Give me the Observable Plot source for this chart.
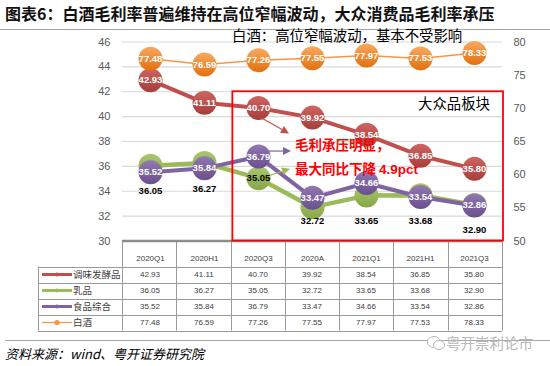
<!DOCTYPE html>
<html><head><meta charset="utf-8">
<script src="https://cdn.jsdelivr.net/npm/d3@7"></script>
<script src="https://cdn.jsdelivr.net/npm/@observablehq/plot@0.6"></script>
<style>
body{margin:0;background:#fff;}
#wrap{position:relative;width:550px;height:366px;overflow:hidden;background:#fff;font-family:"Liberation Sans",Arial,"Noto Sans CJK SC",sans-serif;}
#title{position:absolute;left:5px;top:3px;font:bold 16px "Noto Sans CJK SC",sans-serif;color:#111;white-space:nowrap;line-height:20px;}
#tline{position:absolute;left:0;top:29px;width:550px;height:1px;background:#A6A6A6;}
#chart{position:absolute;left:0;top:30px;}
#fline{position:absolute;left:5px;top:340px;width:545px;height:1px;background:#A6A6A6;}
#source{position:absolute;left:5px;top:345px;font:italic 13px "Noto Sans CJK SC",sans-serif;color:#000;white-space:nowrap;line-height:18px;}
#wm{position:absolute;left:426px;top:333px;font:14.5px "Noto Sans CJK SC",sans-serif;color:#B8B8B8;white-space:nowrap;line-height:20px;background:transparent;}
</style></head>
<body><div id="wrap">
<div id="title">图表6：白酒毛利率普遍维持在高位窄幅波动，大众消费品毛利率承压</div>
<div id="tline"></div>
<div id="chart"></div>
<div id="fline"></div>
<div id="source">资料来源：wind、粤开证券研究院</div>
<div id="wm"><svg width="20" height="16" style="vertical-align:-2px"><ellipse cx="8" cy="7" rx="6.5" ry="5.5" fill="#fff" stroke="#B8B8B8"/><ellipse cx="13" cy="10" rx="5.5" ry="4.5" fill="#fff" stroke="#B8B8B8"/></svg>粤开崇利论市</div>
</div>
<script>
// ---- data ----
const categories = ["2020Q1","2020H1","2020Q3","2020A","2021Q1","2021H1","2021Q3"];
const seriesNames = ["调味发酵品","乳品","食品综合","白酒"];
const seasoning = [42.93,41.11,40.70,39.92,38.54,36.85,35.80];
const dairy     = [36.05,36.27,35.05,32.72,33.65,33.68,32.90];
const foodMix   = [35.52,35.84,36.79,33.47,34.66,33.54,32.86];
const baijiu    = [77.48,76.59,77.26,77.55,77.97,77.53,78.33];
const leftTicks  = [30,32,34,36,38,40,42,44,46];
const rightTicks = [50,55,60,65,70,75,80];
const annTop = "白酒：高位窄幅波动，基本不受影响";
const annBox = "大众品板块";
const annRed1 = "毛利承压明显，";
const annRed2a = "最大同比下降 ";
const annRed2b = "4.9pct";

// ---- styles ----
const valuesList = [seasoning, dairy, foodMix, baijiu];
const styles = [
  {color:"#C0504D", g0:"#CF6461", g1:"#A63E3B", sw:4,   secondary:false, grad:"gRed"},
  {color:"#9BBB59", g0:"#AAC86C", g1:"#86A747", sw:4.5, secondary:false, grad:"gGreen"},
  {color:"#8064A2", g0:"#9078B2", g1:"#6A4F8C", sw:4,   secondary:false, grad:"gPurple"},
  {color:"#F79646", g0:"#FAA95F", g1:"#E2700F", sw:1.5, secondary:true,  grad:"gOrange"}
];
const toLeft = v => 30 + (v - 50) * 16 / 30;
const fromLeft = v => 50 + (v - 30) * 30 / 16;

const rows = seriesNames.map((name, s) => categories.map((c, i) => ({
  name, s, cat: c, i, v: valuesList[s][i],
  y: styles[s].secondary ? toLeft(valuesList[s][i]) : valuesList[s][i]
})));

const numFont = '"Liberation Sans", Arial, sans-serif';
const cjkFont = '"Noto Sans CJK SC", sans-serif';

const defsMark = () => {
  const defs = d3.create("svg:defs");
  styles.forEach(st => {
    const lg = defs.append("linearGradient").attr("id", st.grad).attr("x1",0).attr("y1",0).attr("x2",0).attr("y2",1);
    lg.append("stop").attr("offset","0%").attr("stop-color", st.g0);
    lg.append("stop").attr("offset","100%").attr("stop-color", st.g1);
  });
  return defs.node();
};

function arrowPath(g, x1, y1, x2, y2, color) {
  const a = Math.atan2(y2 - y1, x2 - x1), L = 8, Wd = 4;
  const bx = x2 - L * Math.cos(a), by = y2 - L * Math.sin(a);
  g.append("line").attr("x1", x1).attr("y1", y1).attr("x2", bx).attr("y2", by)
    .attr("stroke", color).attr("stroke-width", 1.2);
  g.append("path").attr("d", `M${x2},${y2}L${bx + Wd*Math.sin(a)},${by - Wd*Math.cos(a)}L${bx - Wd*Math.sin(a)},${by + Wd*Math.cos(a)}Z`)
    .attr("fill", color);
}

const annotMark = (index, scales, values, dims) => {
  const {width, height, marginRight, marginBottom, marginLeft} = dims;
  const x1 = width - marginRight;
  const step = (x1 - marginLeft) / categories.length;
  const g = d3.create("svg:g").attr("text-anchor", "start");
  const q3 = categories[2];
  const xq = scales.x(q3);
  // red box
  const bx0 = xq - step / 2 + 1.5;
  const by0 = scales.y(42);
  const by1 = height - marginBottom;
  g.append("rect").attr("x", bx0).attr("y", by0).attr("width", x1 + 1 - bx0).attr("height", by1 - by0)
    .attr("fill", "none").attr("stroke", "#FF0000").attr("stroke-width", 1.8);
  // arrows
  const yr = scales.y(seasoning[2]), yp = scales.y(foodMix[2]), yg = scales.y(dairy[2]);
  arrowPath(g, xq + 1, yr + 9, xq + 31, yr + 26, styles[0].color);
  arrowPath(g, xq + 11, yp - 5, xq + 33, yp - 5, styles[2].color);
  arrowPath(g, xq + 8, yg - 1, xq + 32, yg - 9, styles[1].color);
  // texts
  g.append("text").attr("x", xq - 26).attr("y", 6).attr("dy", "0.35em").attr("text-anchor", "start")
    .attr("font-family", cjkFont).attr("font-size", 14.4).attr("fill", "#000").text(annTop);
  g.append("text").attr("x", x1 - 12).attr("y", 74).attr("dy", "0.35em").attr("text-anchor", "end")
    .attr("font-family", cjkFont).attr("font-size", 14.4).attr("fill", "#000").text(annBox);
  g.append("text").attr("x", xq + 37).attr("y", 115).attr("dy", "0.35em").attr("text-anchor", "start")
    .attr("font-family", cjkFont).attr("font-size", 13.5).attr("font-weight", "bold").attr("fill", "#FF0000").text(annRed1);
  const t2 = g.append("text").attr("x", xq + 37).attr("y", 139).attr("dy", "0.35em").attr("text-anchor", "start")
    .attr("font-size", 13.5).attr("font-weight", "bold").attr("fill", "#FF0000");
  t2.append("tspan").attr("font-family", cjkFont).text(annRed2a);
  t2.append("tspan").attr("font-family", numFont).text(annRed2b);
  return g.node();
};

const tableMark = (index, scales, values, dims) => {
  const {width, height, marginLeft, marginRight, marginBottom} = dims;
  const x0 = marginLeft, x1 = width - marginRight;
  const axisY = height - marginBottom;
  const step = (x1 - x0) / categories.length;
  const rowTop = axisY + 26, rowH = 16, tableLeft = 38;
  const bottom = rowTop + seriesNames.length * rowH;
  const g = d3.create("svg:g");
  const ln = (a, b, c, d) => g.append("line").attr("x1", a).attr("y1", b).attr("x2", c).attr("y2", d)
    .attr("stroke", "#9A9A9A").attr("stroke-width", 1);
  for (let k = 0; k <= categories.length; k++) {
    const x = Math.round(x0 + k * step) + 0.5;
    ln(x, axisY, x, bottom);
  }
  ln(tableLeft + 0.5, rowTop, tableLeft + 0.5, bottom);
  for (let r = 0; r <= seriesNames.length; r++) {
    const y = Math.round(rowTop + r * rowH) + 0.5;
    ln(tableLeft, y, x1, y);
  }
  seriesNames.forEach((name, r) => {
    const yc = rowTop + rowH * (r + 0.5);
    const st = styles[r];
    categories.forEach((c, i) => {
      g.append("text").attr("x", scales.x(c)).attr("y", yc).attr("dy", "0.35em").attr("text-anchor", "middle")
        .attr("font-family", numFont).attr("font-size", 8).attr("fill", "#404040").text(valuesList[r][i].toFixed(2));
    });
    g.append("line").attr("x1", tableLeft + 4).attr("x2", tableLeft + 34).attr("y1", yc).attr("y2", yc)
      .attr("stroke", st.color).attr("stroke-width", st.secondary ? 1.2 : 3);
    g.append("circle").attr("cx", tableLeft + 19).attr("cy", yc).attr("r", st.secondary ? 2.6 : 2).attr("fill", st.color);
    g.append("text").attr("x", tableLeft + 35).attr("y", yc).attr("dy", "0.35em").attr("text-anchor", "start")
      .attr("font-family", cjkFont).attr("font-size", 9.5).attr("fill", "#404040").text(name);
  });
  return g.node();
};

const seriesMarks = [];
rows.forEach((data, s) => {
  const st = styles[s];
  seriesMarks.push(Plot.line(data, {x: "cat", y: "y", stroke: st.color, strokeWidth: st.sw, curve: "linear"}));
  seriesMarks.push(Plot.dot(data, {x: "cat", y: "y", r: 12, fill: `url(#${st.grad})`, stroke: "none"}));
});

const labelMarks = [];
rows.forEach((data, s) => {
  const fmt = d => d.v.toFixed(2);
  if (s === 1) {
    labelMarks.push(Plot.text(data.filter(d => d.i === 2), {x: "cat", y: "y", text: fmt, fill: "#000", fontWeight: "bold", fontSize: 9.5, fontFamily: numFont}));
    labelMarks.push(Plot.text(data.filter(d => d.i === 3), {x: "cat", y: "y", text: fmt, dy: 14, fill: "#000", fontWeight: "bold", fontSize: 9.5, fontFamily: numFont}));
    labelMarks.push(Plot.text(data.filter(d => d.i !== 2 && d.i !== 3), {x: "cat", y: "y", text: fmt, dy: 25.5, fill: "#000", fontWeight: "bold", fontSize: 9.5, fontFamily: numFont}));
  } else {
    labelMarks.push(Plot.text(data, {x: "cat", y: "y", text: fmt, fill: "#fff", fontWeight: "bold", fontSize: 9.5, fontFamily: numFont}));
  }
});

const plot = Plot.plot({
  width: 550,
  height: 302,
  marginLeft: 122,
  marginRight: 48,
  marginTop: 11.5,
  marginBottom: 91.5,
  style: {background: "transparent", overflow: "visible", fontFamily: numFont, fontSize: "11px", color: "#595959"},
  x: {type: "point", domain: categories, padding: 0.5, label: null},
  y: {domain: [30, 46], label: null},
  marks: [
    defsMark,
    Plot.gridY(leftTicks.filter(t => t > 30), {stroke: "#D9D9D9", strokeOpacity: 1, strokeWidth: 1.2}),
    Plot.axisY(leftTicks, {anchor: "left", tickSize: 0, tickPadding: 12, fontSize: 11, fill: "#595959", label: null}),
    Plot.axisY(rightTicks.map(toLeft), {anchor: "right", tickSize: 0, tickPadding: 11, fontSize: 11, fill: "#595959", label: null,
      tickFormat: d => String(Math.round(fromLeft(d)))}),
    Plot.axisX({anchor: "bottom", tickSize: 0, tickPadding: 14, fontSize: 8, fill: "#404040", label: null}),
    tableMark,
    Plot.ruleY([30], {stroke: "#8C8C8C", strokeWidth: 2.5}),
    ...seriesMarks,
    annotMark,
    ...labelMarks
  ]
});
document.getElementById("chart").appendChild(plot);
</script>
</body></html>
